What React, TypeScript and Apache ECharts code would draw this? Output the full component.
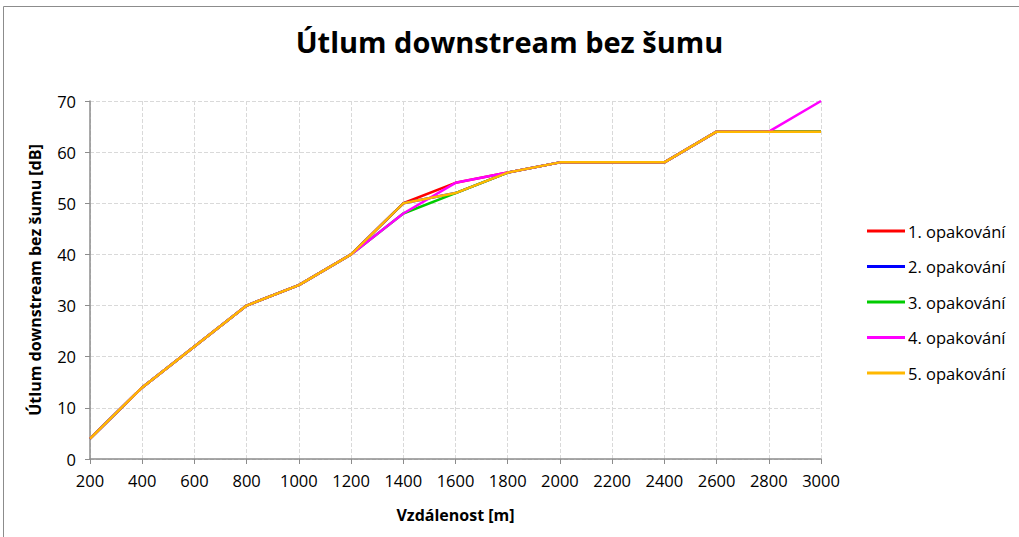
import React, { useEffect, useRef } from "react";
import * as echarts from "echarts";

const categories = ["200", "400", "600", "800", "1000", "1200", "1400", "1600", "1800", "2000", "2200", "2400", "2600", "2800", "3000"];
const rep1 = [4, 14, 22, 30, 34, 40, 50, 54, 56, 58, 58, 58, 64, 64, 64];
const rep2 = [4, 14, 22, 30, 34, 40, 50, 52, 56, 58, 58, 58, 64, 64, 64];
const rep3 = [4, 14, 22, 30, 34, 40, 48, 52, 56, 58, 58, 58, 64, 64, 64];
const rep4 = [4, 14, 22, 30, 34, 40, 48, 54, 56, 58, 58, 58, 64, 64, 70];
const rep5 = [4, 14, 22, 30, 34, 40, 50, 52, 56, 58, 58, 58, 64, 64, 64];
const seriesNames = ["1. opakování", "2. opakování", "3. opakování", "4. opakování", "5. opakování"];
const seriesColors = ["#FF0000", "#0000FF", "#00CC00", "#FF00FF", "#FFB800"];
const seriesData = [rep1, rep2, rep3, rep4, rep5];

const FONT = "'Open Sans', sans-serif";

export default function App() {
  const ref = useRef<HTMLDivElement>(null);
  useEffect(() => {
    if (!ref.current) return;
    const chart = echarts.init(ref.current, null, { renderer: "svg" });
    chart.setOption({
      animation: false,
      backgroundColor: "#ffffff",
      textStyle: { fontFamily: FONT },
      title: {
        text: "Útlum downstream bez šumu",
        left: "center",
        top: 22,
        textStyle: { fontFamily: FONT, fontSize: 29, fontWeight: "bold", color: "#000" },
      },
      graphic: [
        {
          type: "rect",
          shape: { x: 3.5, y: 6.5, width: 1030, height: 560 },
          style: { fill: "none", stroke: "#8c8c8c", lineWidth: 1 },
          silent: true,
        },
      ],
      legend: {
        orient: "vertical",
        left: 862,
        top: 216,
        itemWidth: 38,
        itemHeight: 3,
        itemGap: 15.5,
        icon: "rect",
        data: seriesNames,
        textStyle: { fontFamily: FONT, fontSize: 16.5, lineHeight: 20, color: "#000", padding: [0, 0, 0, -2] },
      },
      grid: { left: 90, right: 198, top: 101, bottom: 78, containLabel: false },
      xAxis: {
        type: "category",
        data: categories,
        boundaryGap: false,
        name: "Vzdálenost [m]",
        nameLocation: "middle",
        nameGap: 48,
        nameTextStyle: { fontFamily: FONT, fontSize: 16, fontWeight: "bold", color: "#000" },
        axisLine: { lineStyle: { color: "#8c8c8c", width: 1.5 } },
        axisTick: { show: true, alignWithLabel: true, length: 5, lineStyle: { color: "#8c8c8c" } },
        axisLabel: { fontFamily: FONT, fontSize: 16.5, color: "#000", margin: 13 },
        splitLine: { show: true, lineStyle: { color: "#d9d9d9", type: "dashed" } },
      },
      yAxis: {
        type: "value",
        min: 0,
        max: 70,
        interval: 10,
        name: "Útlum downstream bez šumu [dB]",
        nameLocation: "middle",
        nameGap: 47,
        nameTextStyle: { fontFamily: FONT, fontSize: 16, fontWeight: "bold", color: "#000" },
        axisLine: { show: true, lineStyle: { color: "#8c8c8c", width: 1.5 } },
        axisTick: { show: true, length: 5, lineStyle: { color: "#8c8c8c" } },
        axisLabel: { fontFamily: FONT, fontSize: 16.5, color: "#000", margin: 14 },
        splitLine: { show: true, lineStyle: { color: "#d9d9d9", type: "dashed" } },
      },
      series: seriesData.map((d, i) => ({
        name: seriesNames[i],
        type: "line",
        data: d,
        symbol: "none",
        color: seriesColors[i],
        lineStyle: { width: 2.5, color: seriesColors[i] },
        z: 2 + i,
      })),
    });
    return () => chart.dispose();
  }, []);
  return (
    <div
      ref={ref}
      style={{ position: "absolute", left: 0, top: 0, width: 1019, height: 537 }}
    />
  );
}
